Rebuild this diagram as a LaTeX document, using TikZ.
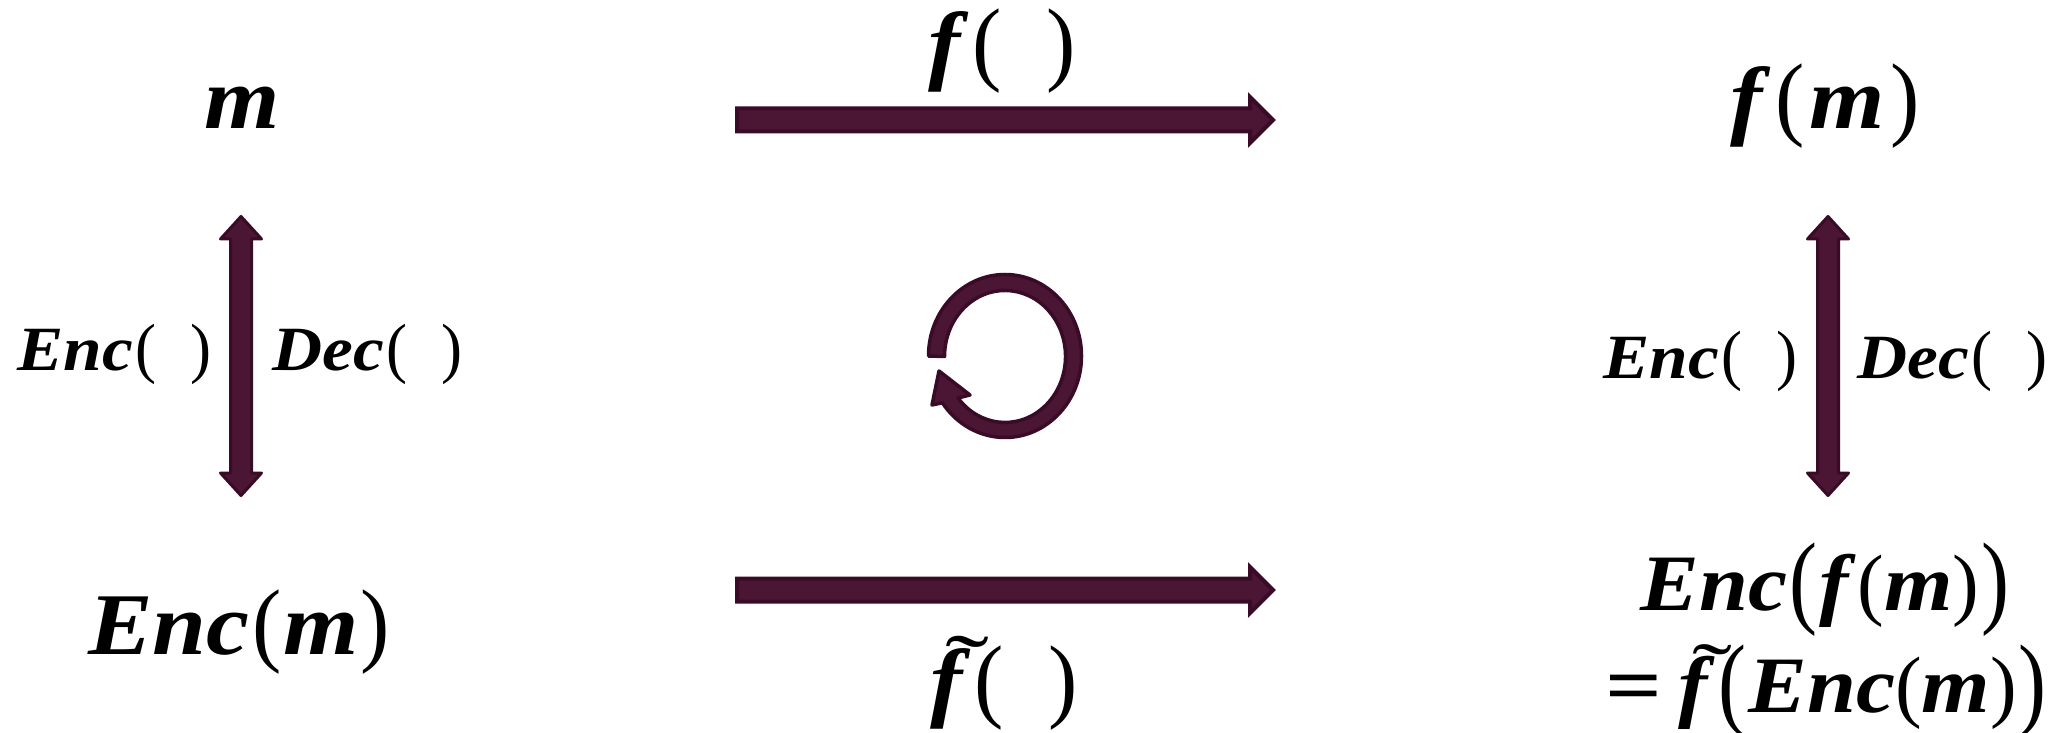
\documentclass[tikz,border=0pt]{standalone}
\usepackage{graphicx}
\usepackage{fontspec}
\setmainfont{Liberation Serif}
\newfontfamily\mathbi[FakeStretch=1.1]{Liberation Serif Bold Italic}
\usetikzlibrary{calc}
\definecolor{arrowfill}{HTML}{4B1534}
\definecolor{arrowedge}{HTML}{3A0B27}
\newcommand\sz[1]{\fontsize{#1}{#1}\selectfont}
\newcommand\lp{{\normalfont\kern.03em\scalebox{1}[1.06]{(}\kern.02em}}
\newcommand\rp{{\normalfont\kern.02em\scalebox{1}[1.06]{)}\kern.02em}}
\newcommand\Lp{{\normalfont\kern.02em\raisebox{-.06em}{\scalebox{1.05}[1.29]{(}}\kern.03em}}
\newcommand\Rp{{\normalfont\kern.02em\raisebox{-.06em}{\scalebox{1.05}[1.29]{)}}}}
\newcommand\ftil{\rlap{\kern.17em\raisebox{.17em}{\normalfont\scalebox{1.5}[1]{\char"02DC}}}f\kern.11em}
\newcommand\fx{f\kern.11em}
\newcommand\hblockarrow[2]{%
  \draw[blockedge,line join=miter,line width=4pt,fill=arrowfill] let \p1=(#1),\p2=(#2) in
    (\x1+2pt,\y1+11.5pt) -- (\x2-27pt,\y1+11.5pt) -- (\x2-27pt,\y1+23pt) -- (\x2-4pt,\y1)
    -- (\x2-27pt,\y1-23pt) -- (\x2-27pt,\y1-11.5pt) -- (\x1+2pt,\y1-11.5pt) -- cycle;}
\newcommand\vblockarrow[2]{%
  \draw[blockedge,line join=round,line width=3pt,fill=arrowfill] let \p1=(#1),\p2=(#2) in
    (\x1,\y1-1.5pt) -- (\x1+20.5pt,\y1-24pt) -- (\x1+10.5pt,\y1-24pt) -- (\x1+10.5pt,\y2+24pt)
    -- (\x1+20.5pt,\y2+24pt) -- (\x1,\y2+1.5pt) -- (\x1-20.5pt,\y2+24pt) -- (\x1-10.5pt,\y2+24pt)
    -- (\x1-10.5pt,\y1-24pt) -- (\x1-20.5pt,\y1-24pt) -- cycle;}
\tikzset{
  blockedge/.style={draw=arrowedge},
  lab/.style={anchor=base,inner sep=0pt,outer sep=0pt,font=\mathbi\sz{80}},
  lablarge/.style={lab,font=\mathbi\sz{88}},
  labsmall/.style={lab,font=\mathbi\sz{63}},
}
\begin{document}
\begin{tikzpicture}[x=1pt,y=1pt]
\useasboundingbox (0,0) rectangle (2064,732);
% main labels (y = 732 - pixel row)
\node[lablarge] (m) at (242,603) {m};
\node[lablarge] (fm) at (1826,603) {\fx\lp\kern.04em m\kern.04em\rp};
\node[lablarge] (encm) at (240,78) {Enc\lp m\rp};
\node[lab] (encfm) at (1825,122) {Enc\Lp\fx{\normalfont(}m{\normalfont)}\Rp};
\node[lab] (eq) at (1826,20) {{\normalfont\bfseries\scalebox{1.25}[1]{=}}\hspace{.2em}\ftil\Lp Enc{\normalfont(}m{\normalfont)}\Rp};
% operator labels
\node[lablarge] (f) at (1003,658) {\fx\lp\hspace{.47em}\rp};
\node[lablarge] (ft) at (1005,22) {\ftil\lp\hspace{.47em}\rp};
\node[labsmall] (enc1) at (115,362) {Enc\lp\hspace{.5em}\rp};
\node[labsmall] (dec1) at (368,362) {Dec\lp\hspace{.5em}\rp};
\node[labsmall] (enc2) at (1701,354) {Enc\lp\hspace{.5em}\rp};
\node[labsmall] (dec2) at (1953,354) {Dec\lp\hspace{.5em}\rp};
% connector end points
\coordinate (t1) at (735,612);
\coordinate (t2) at (1277,612);
\coordinate (b1) at (735,142);
\coordinate (b2) at (1277,142);
\coordinate (l1) at (241,517);
\coordinate (l2) at (241,235);
\coordinate (r1) at (1828,517);
\coordinate (r2) at (1828,235);
\hblockarrow{t1}{t2}
\hblockarrow{b1}{b2}
\vblockarrow{l1}{l2}
\vblockarrow{r1}{r2}
% circular arrow
\coordinate (cc) at (1005,376);
\draw[blockedge,line join=round,line width=3.5pt,fill=arrowfill]
  (1005-76.5,376) arc[start angle=180,end angle=-145,x radius=76.5,y radius=81.5]
  -- (932,327) -- (939,361) -- (970,337) -- (958,334)
  arc[start angle=-141,end angle=180,x radius=60.5,y radius=66] -- cycle;
\end{tikzpicture}
\end{document}
